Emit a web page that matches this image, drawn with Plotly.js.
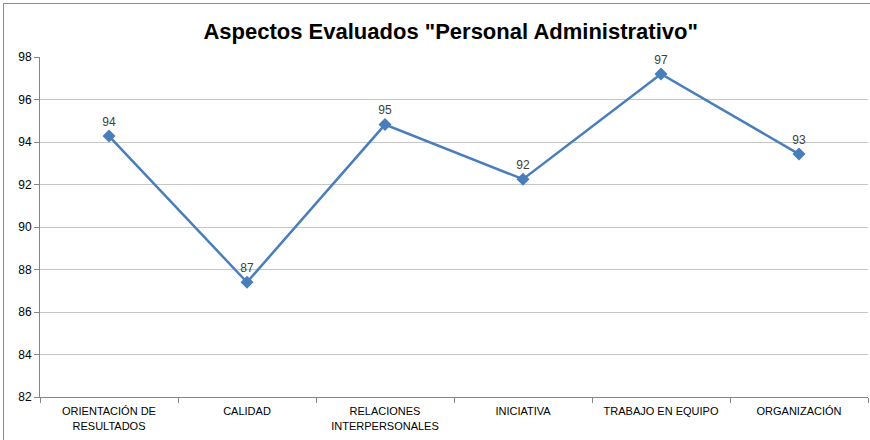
<!DOCTYPE html>
<html>
<head>
<meta charset="utf-8">
<script src="https://cdn.plot.ly/plotly-3.0.1.min.js"></script>
<style>
html,body{margin:0;padding:0;background:#fff;}
#frame{position:absolute;left:3px;top:3px;width:900px;height:470px;border:1px solid #8c8c8c;box-sizing:border-box;}
#chart{position:absolute;left:0;top:0;width:870px;height:440px;}
</style>
</head>
<body>
<div id="frame"></div>
<div id="chart"></div>
<script>
const categories = ["ORIENTACIÓN DE<br>RESULTADOS", "CALIDAD", "RELACIONES<br>INTERPERSONALES", "INICIATIVA", "TRABAJO EN EQUIPO", "ORGANIZACIÓN"];
const values = [94.28, 87.4, 94.82, 92.25, 97.2, 93.43];
const labels = ["94", "87", "95", "92", "97", "93"];
const yTicks = [82, 84, 86, 88, 90, 92, 94, 96, 98];

const trace = {
  type: "scatter",
  mode: "lines+markers+text",
  x: categories,
  y: values,
  text: labels,
  textposition: "top center",
  textfont: {family: "Liberation Sans, Arial", size: 12, color: "#404040"},
  line: {color: "#4a7ebb", width: 2.5},
  marker: {symbol: "diamond", size: 10, color: "#4a7ebb"},
  cliponaxis: false,
  hoverinfo: "none"
};

const layout = {
  width: 870, height: 440,
  margin: {l: 40, r: 2, t: 57, b: 43},
  paper_bgcolor: "rgba(0,0,0,0)",
  plot_bgcolor: "rgba(0,0,0,0)",
  showlegend: false,
  title: {
    text: "<b>Aspectos Evaluados \"Personal Administrativo\"</b>",
    font: {family: "Liberation Sans, Arial", size: 22, color: "#000"},
    x: 0.518, xanchor: "center", y: 0.93, yanchor: "middle"
  },
  xaxis: {
    type: "category",
    showgrid: false,
    showline: true, linecolor: "#868686", linewidth: 1,
    ticks: "outside", ticklen: 5, tickcolor: "#868686",
    tickson: "boundaries",
    ticklabelstandoff: 4,
    tickfont: {family: "Liberation Sans, Arial", size: 11, color: "#000"},
    range: [-0.5, 5.5]
  },
  yaxis: {
    range: [82, 98],
    tickvals: yTicks,
    ticktext: yTicks.map(String),
    showgrid: true, gridcolor: "#c6c6c6", gridwidth: 1,
    showline: true, linecolor: "#868686", linewidth: 1,
    ticks: "outside", ticklen: 5, tickcolor: "#868686",
    zeroline: false,
    tickfont: {family: "Liberation Sans, Arial", size: 12, color: "#000"}
  }
};

Plotly.newPlot("chart", [trace], layout, {displayModeBar: false, staticPlot: true});
</script>
</body>
</html>
